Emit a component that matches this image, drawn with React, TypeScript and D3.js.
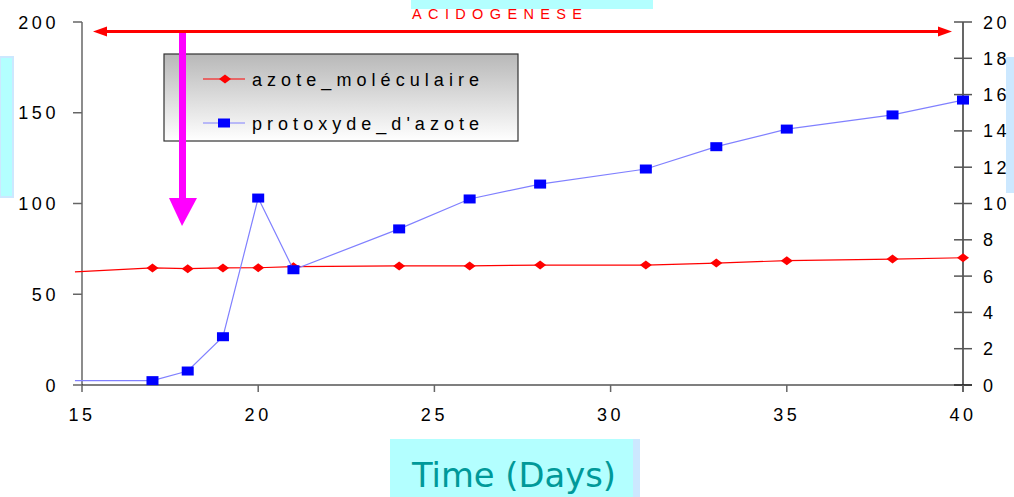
import React from "react";
import * as d3 from "d3";

// measurement days and the two series
const days = [14.8, 17, 18, 19, 20, 21, 24, 26, 28, 31, 33, 35, 38, 40];
const azoteMoleculaire = [62.3, 64.5, 64.1, 64.5, 64.6, 65.2, 65.6, 65.6, 66.1, 66.1, 67.2, 68.5, 69.4, 70.1];
const protoxydeAzote = [0.24, 0.24, 0.77, 2.66, 10.3, 6.35, 8.6, 10.25, 11.07, 11.9, 13.13, 14.1, 14.88, 15.7];

const xTicks = [15, 20, 25, 30, 35, 40];
const leftTicks = [0, 50, 100, 150, 200];
const rightTicks = [0, 2, 4, 6, 8, 10, 12, 14, 16, 18, 20];

const seriesNames = ["azote_moléculaire", "protoxyde_d'azote"];

const W = 1014;
const H = 497;
const FONT = "'Liberation Sans', Arial, sans-serif";

export default function App() {
  const x = d3.scaleLinear().domain([15, 40]).range([82, 963]);
  const yL = d3.scaleLinear().domain([0, 200]).range([385, 22]);
  const yR = d3.scaleLinear().domain([0, 20]).range([385, 22]);

  const redLine = d3
    .line<number>()
    .x((_, i) => x(days[i]))
    .y((d) => yL(d));
  const blueLine = d3
    .line<number>()
    .x((_, i) => x(days[i]))
    .y((d) => yR(d));

  const diamond = (cx: number, cy: number) =>
    `M${cx - 6},${cy} L${cx},${cy - 4.5} L${cx + 6},${cy} L${cx},${cy + 4.5} Z`;

  // first point sits just before day 15 and has no marker
  const marked = (d: number) => d >= 15;

  return (
    <svg
      width={W}
      height={H}
      style={{ position: "absolute", left: 0, top: 0, background: "#fff" }}
      fontFamily={FONT}
    >
      <defs>
        <linearGradient id="legGrad" x1="0" y1="0" x2="0" y2="1">
          <stop offset="0%" stopColor="#b8b8b8" />
          <stop offset="100%" stopColor="#ffffff" />
        </linearGradient>
      </defs>

      {/* cyan boxes from the slide */}
      <rect x={411} y={0} width={242} height={9} fill="#b3ffff" />
      <rect x={0} y={57} width={13} height={140} fill="#b3ffff" stroke="#cce8ff" strokeWidth={2} />
      <rect x={1006} y={57} width={8} height={136} fill="#cce8ff" />
      <rect x={390} y={439} width={243} height={58} fill="#b3ffff" />
      <rect x={633} y={439} width={7} height={58} fill="#cce8ff" />
      <text
        x={412}
        y={487}
        fontFamily="'DejaVu Sans', sans-serif"
        fontSize={33}
        fill="#009999"
        textLength={204}
        lengthAdjust="spacingAndGlyphs"
      >
        Time (Days)
      </text>

      {/* left axis */}
      <line x1={82} x2={82} y1={yL(200)} y2={yL(0)} stroke="#404040" strokeWidth={1.2} />
      {leftTicks.map((t) => (
        <g key={"l" + t}>
          <line x1={73} x2={82} y1={yL(t)} y2={yL(t)} stroke="#666" strokeWidth={1.5} />
          <text x={59} y={yL(t) + 6.5} textAnchor="end" fontSize={18} letterSpacing={3.6} fill="#000">
            {t}
          </text>
        </g>
      ))}

      {/* right axis */}
      <line x1={963} x2={963} y1={yR(20)} y2={392} stroke="#000" strokeWidth={1.2} />
      {rightTicks.map((t) => (
        <g key={"r" + t}>
          <line x1={954} x2={972} y1={yR(t)} y2={yR(t)} stroke="#555" strokeWidth={1.5} />
          <text x={983} y={yR(t) + 6.5} fontSize={18} letterSpacing={3.6} fill="#000">
            {t}
          </text>
        </g>
      ))}

      {/* x axis */}
      <line x1={82} x2={972} y1={385} y2={385} stroke="#000" strokeWidth={1.2} />
      {xTicks.map((t) => (
        <g key={"x" + t}>
          <line x1={x(t)} x2={x(t)} y1={385} y2={392} stroke="#666" strokeWidth={1.5} />
          <text x={x(t)} y={421} textAnchor="middle" fontSize={18} letterSpacing={3.6} fill="#000">
            {t}
          </text>
        </g>
      ))}

      {/* legend */}
      <rect x={164} y={54} width={354} height={87} fill="url(#legGrad)" stroke="#333" strokeWidth={1.2} />
      <line x1={203} x2={245} y1={79} y2={79} stroke="#ff0000" strokeWidth={1.2} />
      <path d={diamond(225, 79)} fill="#ff0000" />
      <text x={252} y={85.5} fontSize={18} textLength={227} lengthAdjust="spacing" fill="#000">
        {seriesNames[0]}
      </text>
      <line x1={203} x2={245} y1={123} y2={123} stroke="#8080ff" strokeWidth={1} />
      <rect x={218} y={118.5} width={12} height={9} fill="#0000ff" />
      <text x={252} y={129.5} fontSize={18} textLength={227} lengthAdjust="spacing" fill="#000">
        {seriesNames[1]}
      </text>

      {/* series lines */}
      <path d={redLine(azoteMoleculaire) ?? ""} fill="none" stroke="#ff0000" strokeWidth={1.2} />
      {azoteMoleculaire.map((v, i) =>
        marked(days[i]) ? <path key={"d" + i} d={diamond(x(days[i]), yL(v))} fill="#ff0000" /> : null
      )}
      <path d={blueLine(protoxydeAzote) ?? ""} fill="none" stroke="#8080ff" strokeWidth={1.2} />
      {protoxydeAzote.map((v, i) =>
        marked(days[i]) ? (
          <rect key={"s" + i} x={x(days[i]) - 6} y={yR(v) - 4.5} width={12} height={9} fill="#0000ff" />
        ) : null
      )}

      {/* magenta arrow */}
      <rect x={179} y={30} width={7} height={168} fill="#ff00ff" />
      <path d="M169,198 L197,198 L182,226 Z" fill="#ff00ff" />

      {/* acidogenese span */}
      <line x1={105} x2={940} y1={31.5} y2={31.5} stroke="#ff0000" strokeWidth={3} />
      <path d="M93,31.5 L107,26.5 L107,36.5 Z" fill="#ff0000" />
      <path d="M952,31.5 L938,26.5 L938,36.5 Z" fill="#ff0000" />
      <text x={412} y={18.5} fontSize={14.5} fill="#ff0000" textLength={170} lengthAdjust="spacing">
        ACIDOGENESE
      </text>
    </svg>
  );
}
